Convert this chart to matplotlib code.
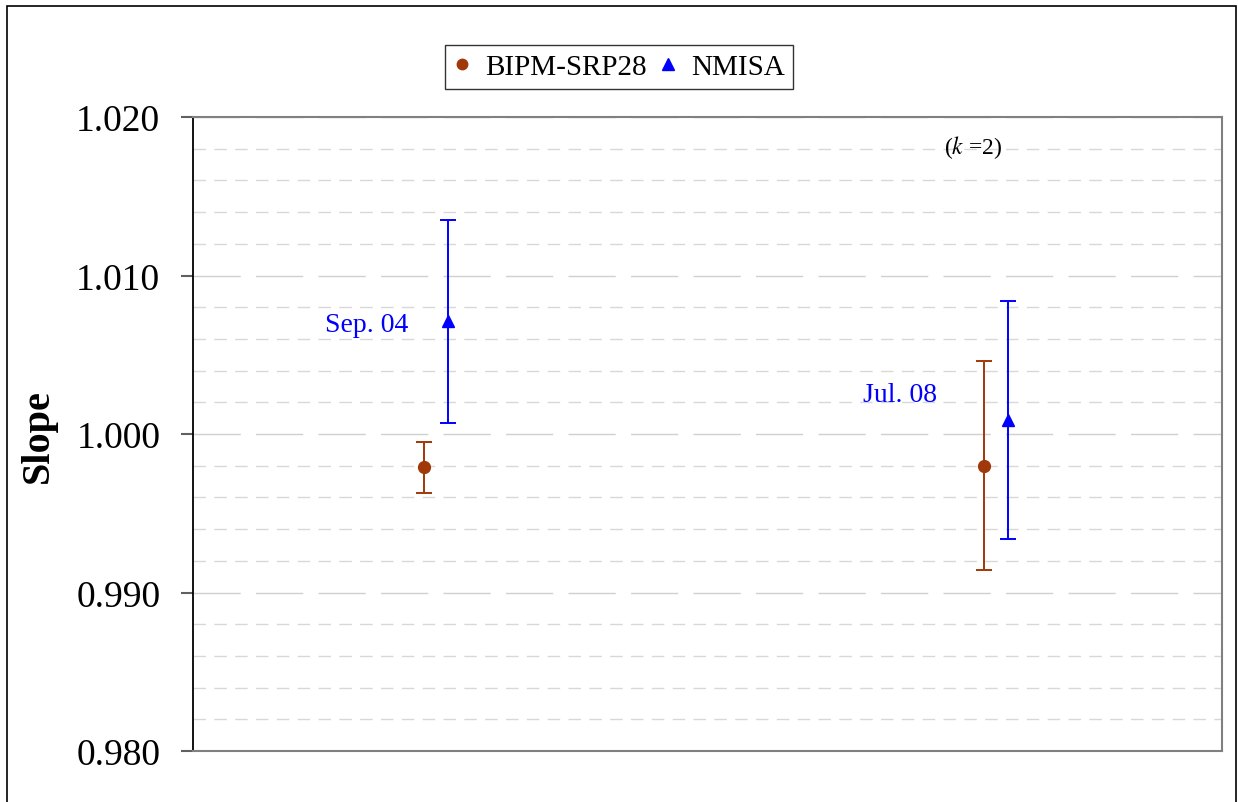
import numpy as np
import matplotlib.pyplot as plt
from matplotlib.lines import Line2D
from matplotlib.patches import Rectangle
from matplotlib.ticker import MultipleLocator

# Comparison dates and values
dates = ['Sep. 04', 'Jul. 08']
bipm_slope = [0.9979, 0.9980]
bipm_unc = [0.0016, 0.0066]
nmisa_slope = [1.0071, 1.0009]
nmisa_unc = [0.0064, 0.0075]
label_y = [1.0069, 1.0025]

plt.rcParams['font.family'] = ['Liberation Serif', 'DejaVu Serif']
plt.rcParams['mathtext.fontset'] = 'stix'

fig = plt.figure(figsize=(12.38, 8.03), dpi=100)
ax = fig.add_axes([193 / 1238, 1 - 752 / 803, (1222 - 193) / 1238, (752 - 118) / 803])

centers = np.array([1.0, 3.0])
off = 0.043
brown = '#A0380A'
blue = '#0000FF'

ax.errorbar(centers - off, bipm_slope, yerr=bipm_unc, fmt='o', color=brown,
            markersize=8.5, elinewidth=1.4, capsize=6, capthick=1.4, zorder=3)
ax.errorbar(centers + off, nmisa_slope, yerr=nmisa_unc, fmt='^', color=blue,
            markersize=9, elinewidth=1.4, capsize=6, capthick=1.4, zorder=3)

ax.set_xlim(0.132, 3.807)
ax.set_ylim(0.980, 1.020)
ax.yaxis.set_major_locator(MultipleLocator(0.010))
ax.yaxis.set_minor_locator(MultipleLocator(0.002))
ax.yaxis.set_major_formatter(plt.FormatStrFormatter('%.3f'))
ax.set_xticks([])

ax.grid(True, which='major', axis='y', color='#d0d0d0', lw=1, dashes=(34, 11))
ax.grid(True, which='minor', axis='y', color='#d8d8d8', lw=1, dashes=(9, 6))
ax.set_axisbelow(True)

ax.tick_params(axis='y', which='major', direction='out', length=8.5, width=1.5,
               labelsize=27, pad=15, color='#606060')
ax.tick_params(axis='y', which='minor', length=0)

ax.spines['left'].set_color('black')
ax.spines['left'].set_linewidth(1.3)
for s in ['top', 'right', 'bottom']:
    ax.spines[s].set_color('#808080')
    ax.spines[s].set_linewidth(1.5)

fig.text(38 / 1238, 1 - 436 / 803, 'Slope', fontsize=29, fontweight='bold',
         rotation=90, ha='center', va='center')

# date labels
ax.text(centers[0] - 0.1, label_y[0], dates[0], color=blue, fontsize=20,
        ha='right', va='center')
ax.text(centers[1] - 0.21, label_y[1], dates[1], color=blue, fontsize=20,
        ha='right', va='center')

ax.text(0.758, 0.954, '($k$ =2)', transform=ax.transAxes, fontsize=17,
        ha='center', va='center')

handles = [Line2D([], [], ls='none', marker='o', color=brown, markersize=7.5),
           Line2D([], [], ls='none', marker='^', color=blue, markersize=8)]
leg = fig.legend(handles, ['BIPM-SRP28', 'NMISA'], loc='center',
                 bbox_to_anchor=(619 / 1238, 1 - 68 / 803),
                 ncol=2, fontsize=21, frameon=True, fancybox=False,
                 edgecolor='black', handlelength=0.6, handletextpad=0.5,
                 columnspacing=0.4, borderpad=0.3)
leg.get_frame().set_linewidth(1.0)

# outer chart border
fig.patches.append(Rectangle((7 / 1238, -0.05), (1236 - 7) / 1238, 1 - 7 / 803 + 0.05,
                             transform=fig.transFigure, fill=False,
                             edgecolor='black', lw=1.2))

fig.savefig('out.png', dpi=100)
